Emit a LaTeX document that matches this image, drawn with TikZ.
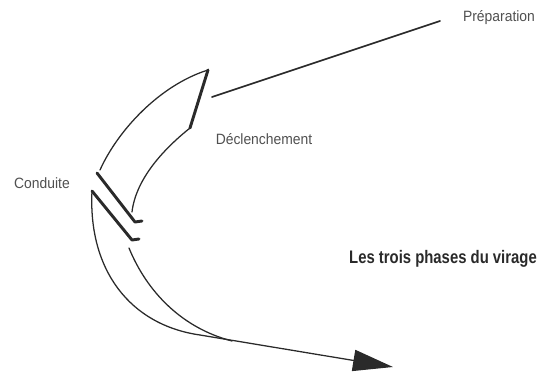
\documentclass[tikz,border=0pt]{standalone}
\usepackage{fontspec}
\setmainfont{Liberation Sans}
\newfontfamily\lightfont[FakeStretch=0.93]{Liberation Sans}
\newfontfamily\boldcond[FakeStretch=0.82]{Liberation Sans Bold}
\usetikzlibrary{arrows.meta}
\definecolor{ink}{HTML}{2A2A2A}
\definecolor{txt}{HTML}{505050}
\tikzset{
  thin line/.style={draw=ink, line width=0.95pt, line cap=round, line join=round},
  thick line/.style={draw=ink, line width=2.2pt, line cap=round, line join=round},
  label/.style={font=\lightfont\fontsize{11.2}{13}\selectfont, text=txt, inner sep=0pt},
  title/.style={font=\boldcond\fontsize{13.6}{15}\selectfont, text=ink, inner sep=0pt},
}
\begin{document}
\begin{tikzpicture}[x=0.75pt,y=-0.75pt]
\useasboundingbox (0,0) rectangle (547,372);
% labels
\node[label] (prep) at (499,18) {Préparation};
\node[label] (decl) at (264,139) {Déclenchement};
\node[label] (cond) at (42,183) {Conduite};
\node[title] (titre) at (443,259) {Les trois phases du virage};
% coordinates
\coordinate (p1) at (212,97);
\coordinate (p2) at (440,21);
\coordinate (a1) at (100,170);
\coordinate (a2) at (208,70);
\coordinate (a3) at (190,128);
\coordinate (a4) at (132,212);
\coordinate (u1) at (97,173);
\coordinate (u2) at (135,222);
\coordinate (u3) at (142,221);
\coordinate (l1) at (92,191);
\coordinate (l2) at (132,240);
\coordinate (l3) at (139,239);
\coordinate (o1) at (200,335);
\coordinate (tip) at (393,367);
\coordinate (i1) at (129,248);
\coordinate (i2) at (232,341);
% preparation line
\draw[draw=ink, line width=1.2pt, line cap=round] (p1) -- (p2);
% upper shape (declenchement)
\draw[thin line] (a1) .. controls (118,130) and (160,85) .. (a2);
\draw[thick line] (a2) -- (a3);
\draw[thin line] (a3) .. controls (165,148) and (136,178) .. (a4);
\draw[thick line] (u1) -- (u2) -- (u3);
% lower shape (conduite)
\draw[thick line] (l1) -- (l2) -- (l3);
\draw[thin line, -{Triangle[length=30pt,width=16pt]}] (l1) .. controls (88,270) and (130,325) .. (o1) -- (tip);
\draw[thin line] (i1) .. controls (147,292) and (182,328) .. (i2);
\end{tikzpicture}
\end{document}
